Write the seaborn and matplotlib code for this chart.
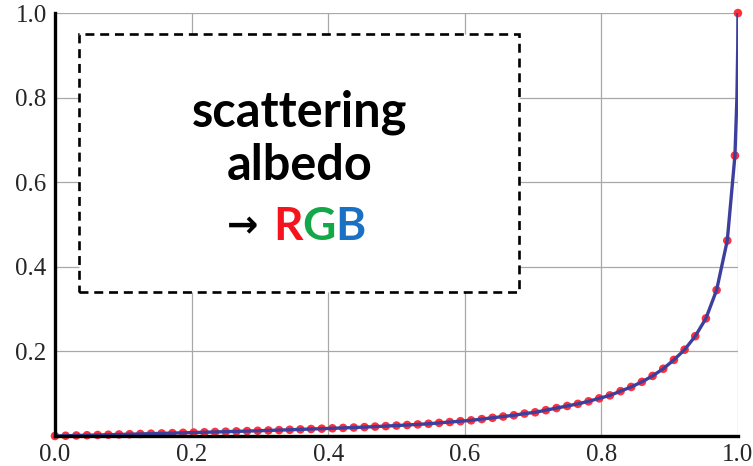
import matplotlib
matplotlib.use("Agg")
import matplotlib.pyplot as plt
import seaborn as sns
import pandas as pd
from matplotlib.patches import Rectangle
from matplotlib import font_manager as fm

# ---- data ----
dot_x = [k / 64 for k in range(64)] + [0.9956, 1.0]
dot_y = [0.000, 0.0006, 0.0012, 0.0018, 0.0024, 0.0030, 0.0036, 0.0042,
         0.0048, 0.0055, 0.0061, 0.0068, 0.0075, 0.0081, 0.0088, 0.0095,
         0.0102, 0.0109, 0.0116, 0.0123, 0.0131, 0.0139, 0.0147, 0.0156,
         0.0165, 0.0173, 0.0182, 0.0191, 0.0200, 0.0210, 0.0222, 0.0234,
         0.0247, 0.0260, 0.0274, 0.0289, 0.0310, 0.0330, 0.0350, 0.0370,
         0.0400, 0.0430, 0.0460, 0.0490, 0.0530, 0.0560, 0.0610, 0.0660,
         0.0710, 0.0760, 0.0820, 0.0890, 0.0960, 0.1060, 0.1160, 0.1280,
         0.1420, 0.1590, 0.1800, 0.2040, 0.2360, 0.2780, 0.3450, 0.4620,
         0.6630, 1.0000]
# extra readings of the curve near x = 1
curve_extra_x = [0.9985, 0.9997]
curve_extra_y = [0.80, 0.92]

x_ticks = [0.0, 0.2, 0.4, 0.6, 0.8, 1.0]
x_tick_labels = ["0.0", "0.2", "0.4", "0.6", "0.8", "1.0"]
y_ticks = [0.2, 0.4, 0.6, 0.8, 1.0]
y_tick_labels = ["0.2", "0.4", "0.6", "0.8", "1.0"]

title_lines = ["scattering", "albedo"]
rgb_letters = ["R", "G", "B"]
rgb_colors = ["#f5141e", "#12a84a", "#1a70c2"]

dots = pd.DataFrame({"x": dot_x, "y": dot_y})
curve = pd.DataFrame({"x": dot_x + curve_extra_x, "y": dot_y + curve_extra_y}).sort_values("x")

sns.set_style("white")
plt.rcParams["font.family"] = ["DejaVu Sans"]

# pick a bold sans family that really has a bold face
bold_family = "DejaVu Sans"
for fam in ["Lato", "Open Sans", "Noto Sans", "Roboto", "Inter"]:
    try:
        p = fm.findfont(fm.FontProperties(family=fam, weight="bold"), fallback_to_default=False)
        if "bold" in p.lower() or "black" in p.lower() or "heavy" in p.lower():
            bold_family = fam
            break
    except Exception:
        pass

fig = plt.figure(figsize=(7.53, 4.66), dpi=100)
ax = fig.add_axes([0.073, 0.0644, 0.907, 0.9076])
ax.set_xlim(0, 1)
ax.set_ylim(0, 1)

# grid
for v in x_ticks[1:]:
    ax.axvline(v, color="#a8a8a8", lw=0.9, zorder=1)
for v in y_ticks:
    ax.axhline(v, color="#a8a8a8", lw=0.9, zorder=1)

# dashed white box
box = Rectangle((0.035, 0.340), 0.644, 0.610, facecolor="white",
                edgecolor="black", lw=1.9, linestyle=(0, (3.4, 2.2)), zorder=2)
ax.add_patch(box)

sns.scatterplot(data=dots, x="x", y="y", ax=ax, color="#ff1f2a", s=38,
                edgecolor="none", alpha=0.92, zorder=3, clip_on=False)
sns.lineplot(data=curve, x="x", y="y", ax=ax, color="#3d3f9e", lw=2.4,
             zorder=4, sort=False, estimator=None)
for c in ax.collections:
    c.set_clip_on(False)

# text in box
tfont = dict(family=[bold_family, "DejaVu Sans"], weight="bold", fontsize=35)
ax.text(0.358, 0.731, title_lines[0], ha="center", va="baseline", color="black", **tfont)
ax.text(0.358, 0.605, title_lines[1], ha="center", va="baseline", color="black", **tfont)
ax.text(0.274, 0.493, "→", ha="center", va="center", color="black",
        family=["DejaVu Sans"], weight="bold", fontsize=27)
rfont = dict(tfont, fontsize=33)
for xp, letter, col in zip([0.341, 0.387, 0.432], rgb_letters, rgb_colors):
    ax.text(xp, 0.463, letter, ha="center", va="baseline", color=col, **rfont)

# axes styling
for s in ["top", "right"]:
    ax.spines[s].set_visible(False)
for s in ["left", "bottom"]:
    ax.spines[s].set_color("black")
    ax.spines[s].set_linewidth(2.4)
    ax.spines[s].set_zorder(5)
ax.set_xticks(x_ticks)
ax.set_xticklabels(x_tick_labels)
ax.set_yticks(y_ticks)
ax.set_yticklabels(y_tick_labels)
ax.tick_params(length=0, pad=6, labelsize=18)
for lab in ax.get_xticklabels() + ax.get_yticklabels():
    lab.set_family(["Liberation Serif", "DejaVu Serif"])
ax.set_xlabel("")
ax.set_ylabel("")
if ax.get_legend():
    ax.get_legend().remove()

fig.savefig("out.png", dpi=100)
